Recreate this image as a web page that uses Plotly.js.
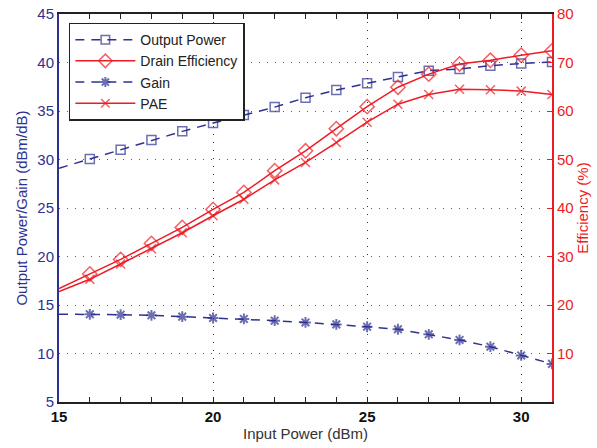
<!DOCTYPE html>
<html><head><meta charset="utf-8">
<script src="https://cdn.plot.ly/plotly-3.0.1.min.js"></script>
<style>html,body{margin:0;padding:0;background:#fff}#c{width:597px;height:448px}</style>
</head><body><div id="c"></div>
<script>
const inputPower = [15,16,17,18,19,20,21,22,23,24,25,26,27,28,29,30,31];
const outputPower = [29.1,30.05,31.0,32.0,32.9,33.76,34.6,35.4,36.37,37.16,37.86,38.5,39.16,39.33,39.67,39.9,40.05];
const drainEff = [23.4,26.4,29.4,32.7,36.0,39.7,43.2,47.7,51.8,56.35,60.9,64.9,67.6,69.7,70.45,71.5,72.4];
const gain = [14.05,14.04,14.0,13.94,13.8,13.66,13.56,13.38,13.2,13.0,12.76,12.5,11.98,11.4,10.7,9.8,8.93];
const pae = [22.75,25.3,28.45,31.6,34.9,38.4,41.8,45.8,49.4,53.5,57.7,61.4,63.4,64.5,64.4,64.1,63.4];

const BLUE = '#2E3192', RED = '#ED1C24';
const msz = inputPower.map((v,i)=> i===0 ? 0 : 9);
const font = 'Liberation Sans, Arial, sans-serif';

const traces = [
 {x: inputPower, y: outputPower, name: 'Output Power', mode: 'lines+markers', yaxis: 'y',
  line: {color: BLUE, width: 1.5, dash: '9px,7px'},
  marker: {symbol: 'square-open', size: msz, color: BLUE, line: {width: 1.5, color: BLUE}}},
 {x: inputPower, y: drainEff, name: 'Drain Efficiency', mode: 'lines+markers', yaxis: 'y2',
  line: {color: RED, width: 1.5},
  marker: {symbol: 'diamond-open', size: inputPower.map((v,i)=> i===0 ? 0 : 11), color: RED, line: {width: 1.5, color: RED}}},
 {x: inputPower, y: gain, name: 'Gain', mode: 'lines+markers', yaxis: 'y',
  line: {color: BLUE, width: 1.5, dash: '9px,7px'},
  marker: {symbol: 'asterisk-open', size: msz, color: BLUE, line: {width: 2, color: BLUE}}},
 {x: inputPower, y: pae, name: 'PAE', mode: 'lines+markers', yaxis: 'y2',
  line: {color: RED, width: 1.5},
  marker: {symbol: 'x-thin-open', size: msz, color: RED, line: {width: 1.5, color: RED}}}
];

const layout = {
 width: 597, height: 448,
 margin: {l: 59, r: 45, t: 14, b: 46},
 paper_bgcolor: '#fff', plot_bgcolor: '#fff',
 font: {family: font, size: 13, color: '#222'},
 showlegend: true,
 legend: {x: 0.02, y: 0.978, xanchor: 'left', yanchor: 'top', bgcolor: '#fff',
   bordercolor: '#222', borderwidth: 1.5, font: {family: font, size: 14, color: '#222'},
   tracegroupgap: 0, itemwidth: 60},
 xaxis: {range: [15, 31], tickvals: [15,20,25,30], ticktext: ['15','20','25','30'],
   showline: true, linecolor: '#222', linewidth: 2, mirror: 'allticks',
   ticks: 'inside', ticklen: 5, tickcolor: '#222',
   minor: {dtick: 1, ticks: 'inside', ticklen: 3, tickcolor: '#222', showgrid: false},
   showgrid: true, gridcolor: '#333', griddash: '1px,7px', gridwidth: 1,
   zeroline: false, tickfont: {family: font, size: 15, color: '#111', weight: 'bold'},
   title: {text: 'Input Power (dBm)', font: {family: font, size: 15, color: '#333'}, standoff: 4}},
 yaxis: {range: [5, 45], dtick: 5, tick0: 5, showline: true, linecolor: BLUE, linewidth: 2,
   ticks: '', showgrid: true, gridcolor: '#4a4cb0', griddash: '1px,7px', gridwidth: 1, zeroline: false,
   tickfont: {family: font, size: 15, color: BLUE},
   title: {text: 'Output Power/Gain (dBm/dB)', font: {family: font, size: 15, color: BLUE}, standoff: 6}},
 yaxis2: {range: [0, 80], tickvals: [10,20,30,40,50,60,70,80], overlaying: 'y', side: 'right',
   showline: true, linecolor: RED, linewidth: 2, ticks: 'inside', ticklen: 5, tickcolor: RED,
   showgrid: false, zeroline: false, tickfont: {family: font, size: 15, color: RED},
   title: {text: 'Efficiency (%)', font: {family: font, size: 15, color: RED}, standoff: 4}}
};
Plotly.newPlot('c', traces, layout, {displayModeBar: false, staticPlot: true});
</script></body></html>
